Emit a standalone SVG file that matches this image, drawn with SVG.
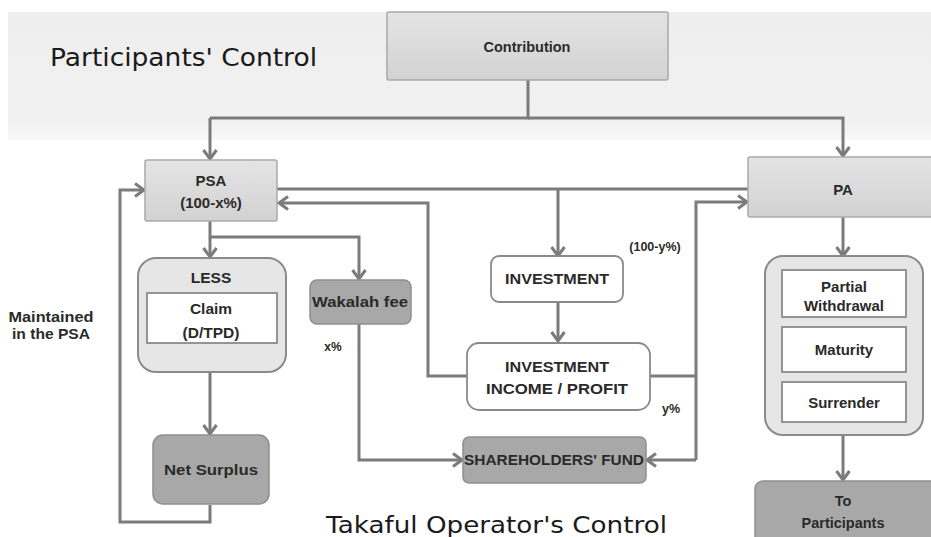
<svg xmlns="http://www.w3.org/2000/svg" width="931" height="537" viewBox="0 0 931 537">
  <defs>
    <linearGradient id="lightBox" x1="0" y1="0" x2="0" y2="1">
      <stop offset="0" stop-color="#e4e4e4"/>
      <stop offset="1" stop-color="#d2d2d2"/>
    </linearGradient>
    <linearGradient id="band" x1="0" y1="0" x2="0" y2="1">
      <stop offset="0" stop-color="#eeeeee"/>
      <stop offset="0.85" stop-color="#f1f1f1"/>
      <stop offset="1" stop-color="#f8f8f8"/>
    </linearGradient>
    <marker id="arr" markerWidth="16" markerHeight="16" refX="12" refY="8" orient="auto" markerUnits="userSpaceOnUse">
      <path d="M3,1.5 L12,8 L3,14.5" fill="none" stroke="#7b7b7b" stroke-width="3" stroke-linejoin="miter"/>
    </marker>
    <style>
      .conn { fill: none; stroke: #7b7b7b; stroke-width: 3; }
      .arrow { marker-end: url(#arr); }
      .light { fill: url(#lightBox); stroke: #a9a9a9; stroke-width: 1.5; }
      .dark { fill: #a8a8a8; stroke: #8e8e8e; stroke-width: 1.5; }
      .group { fill: #e6e6e6; stroke: #8a8a8a; stroke-width: 2; }
      .white { fill: #ffffff; stroke: #8a8a8a; stroke-width: 1.8; }
      .lbl { font-family: "Liberation Sans", Arial, sans-serif; font-weight: bold; fill: #2a2a2a; text-anchor: middle; }
      .title { font-family: "DejaVu Sans", Verdana, sans-serif; fill: #1a1a1a; }
    </style>
  </defs>

  <!-- background -->
  <rect x="0" y="0" width="931" height="537" fill="#ffffff"/>
  <rect x="8" y="12" width="923" height="128" fill="url(#band)"/>

  <text class="title" x="50" y="66" font-size="24" textLength="267" lengthAdjust="spacingAndGlyphs">Participants' Control</text>
  <text class="title" x="326" y="533" font-size="23" textLength="341" lengthAdjust="spacingAndGlyphs">Takaful Operator's Control</text>

  <!-- connectors -->
  <g id="connectors">
    <path class="conn" d="M528,80 V118 H210"/>
    <path class="conn arrow" d="M210,118 V159"/>
    <path class="conn arrow" d="M528,118 H843 V156"/>
    <path class="conn" d="M277,189 H748"/>
    <path class="conn arrow" d="M558,189 V256"/>
    <path class="conn arrow" d="M467,376 H428 V203 H279"/>
    <path class="conn" d="M650,376 H696"/>
    <path class="conn arrow" d="M696,460 V202 H747"/>
    <path class="conn arrow" d="M696,460 H647"/>
    <path class="conn arrow" d="M210,221 V257"/>
    <path class="conn arrow" d="M210,237 H359 V279"/>
    <path class="conn arrow" d="M359,324 V460 H462"/>
    <path class="conn arrow" d="M210,372 V434"/>
    <path class="conn arrow" d="M210,505 V522 H120 V190 H144"/>
    <path class="conn arrow" d="M558,302 V341"/>
    <path class="conn arrow" d="M843,217 V256"/>
    <path class="conn arrow" d="M843,435 V480"/>
  </g>

  <g id="contribution">
    <rect class="light" x="387" y="12" width="281" height="68" rx="2"/>
    <text class="lbl" x="527" y="52" font-size="14.5">Contribution</text>
  </g>

  <g id="psa">
    <rect class="light" x="145" y="160" width="132" height="61" rx="2"/>
    <text class="lbl" x="211" y="186" font-size="15">PSA</text>
    <text class="lbl" x="211" y="208" font-size="15">(100-x%)</text>
  </g>

  <g id="pa">
    <rect class="light" x="748" y="157" width="190" height="60" rx="2"/>
    <text class="lbl" x="843" y="195" font-size="15">PA</text>
  </g>

  <g id="less">
    <rect class="group" x="138" y="258" width="148" height="114" rx="18"/>
    <text class="lbl" x="211" y="283" font-size="15.5">LESS</text>
    <rect class="white" x="147" y="293" width="130" height="50"/>
    <text class="lbl" x="211" y="314" font-size="15.5">Claim</text>
    <text class="lbl" x="211" y="338" font-size="15.5">(D/TPD)</text>
  </g>

  <g id="wakalah-fee">
    <rect class="dark" x="310" y="280" width="101" height="44" rx="7"/>
    <text class="lbl" x="360" y="307" font-size="15" textLength="96" lengthAdjust="spacingAndGlyphs">Wakalah fee</text>
  </g>
  <text class="lbl" x="333" y="351" font-size="12" font-weight="normal">x%</text>

  <g id="investment">
    <rect class="white" x="491" y="256" width="132" height="46" rx="8"/>
    <text class="lbl" x="557" y="284" font-size="14.5" textLength="104" lengthAdjust="spacingAndGlyphs">INVESTMENT</text>
  </g>
  <text class="lbl" x="655" y="251" font-size="12.5">(100-y%)</text>

  <g id="investment-income">
    <rect class="white" x="467" y="343" width="183" height="67" rx="12"/>
    <text class="lbl" x="557" y="372" font-size="14.5" textLength="104" lengthAdjust="spacingAndGlyphs">INVESTMENT</text>
    <text class="lbl" x="557" y="394" font-size="14.5" textLength="142" lengthAdjust="spacingAndGlyphs">INCOME / PROFIT</text>
  </g>
  <text class="lbl" x="671" y="413" font-size="12.5">y%</text>

  <g id="shareholders-fund">
    <rect class="dark" x="463" y="437" width="183" height="46" rx="6"/>
    <text class="lbl" x="554" y="465" font-size="14" font-weight="normal" textLength="180" lengthAdjust="spacingAndGlyphs">SHAREHOLDERS' FUND</text>
  </g>

  <g id="net-surplus">
    <rect class="dark" x="153" y="435" width="116" height="69" rx="10"/>
    <text class="lbl" x="211" y="475" font-size="14.5" textLength="94" lengthAdjust="spacingAndGlyphs">Net Surplus</text>
  </g>

  <g id="maintained-label">
    <text class="lbl" x="51" y="322" font-size="14" textLength="85" lengthAdjust="spacingAndGlyphs">Maintained</text>
    <text class="lbl" x="51" y="339" font-size="14" textLength="78" lengthAdjust="spacingAndGlyphs">in the PSA</text>
  </g>

  <g id="pa-outflows">
    <rect class="group" x="765" y="256" width="158" height="179" rx="18"/>
    <rect class="white" x="782" y="270" width="124" height="47"/>
    <text class="lbl" x="844" y="292" font-size="15">Partial</text>
    <text class="lbl" x="844" y="311" font-size="15">Withdrawal</text>
    <rect class="white" x="782" y="327" width="124" height="45"/>
    <text class="lbl" x="844" y="355" font-size="15">Maturity</text>
    <rect class="white" x="782" y="382" width="124" height="40"/>
    <text class="lbl" x="844" y="408" font-size="15">Surrender</text>
  </g>

  <g id="to-participants">
    <rect class="dark" x="755" y="481" width="190" height="70" rx="8"/>
    <text class="lbl" x="843" y="506" font-size="14.5">To</text>
    <text class="lbl" x="843" y="528" font-size="14.5">Participants</text>
  </g>
</svg>
